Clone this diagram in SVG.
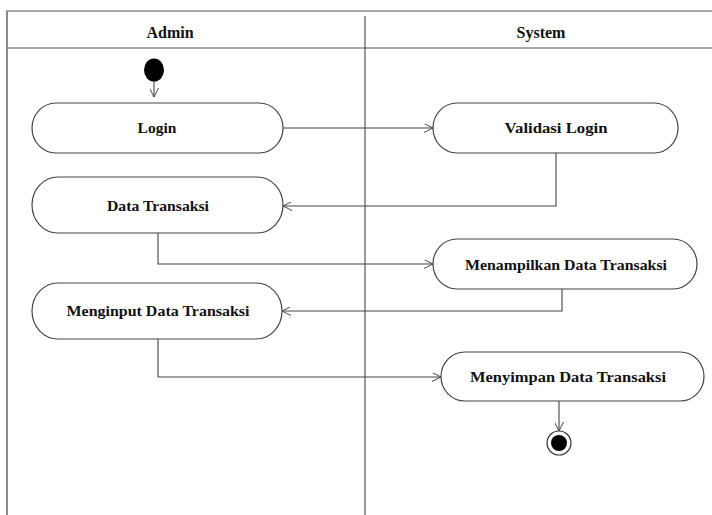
<svg xmlns="http://www.w3.org/2000/svg" width="712" height="515" viewBox="0 0 712 515">
<style>
.frame{stroke:#8a8a8a;fill:none}
.node rect{fill:#fff;stroke:#444;stroke-width:1.2}
.node text{font-family:'Liberation Serif','Times New Roman','DejaVu Serif',serif;font-weight:bold;font-size:15.5px;fill:#111;text-anchor:middle}
.hdr{font-family:'Liberation Serif','Times New Roman','DejaVu Serif',serif;font-weight:bold;font-size:16px;fill:#111;text-anchor:middle}
#connectors path{fill:none;stroke:#444;stroke-width:1.1;marker-end:url(#arr)}
</style>
<defs>
<marker id="arr" viewBox="0 0 10 10" refX="10" refY="5" markerWidth="9" markerHeight="9" markerUnits="userSpaceOnUse" orient="auto">
<path d="M0,0 L10,5 L0,10" fill="none" stroke="#444" stroke-width="1.1"/>
</marker>
</defs>
<rect width="712" height="515" fill="#fff"/>
<g id="swimlanes">
<line class="frame" x1="7" y1="11" x2="7" y2="515" stroke-width="2"/>
<line class="frame" x1="6" y1="11" x2="712" y2="11" stroke-width="1.5"/>
<line class="frame" x1="7" y1="48" x2="712" y2="48" stroke-width="1.5"/>
<line x1="365" y1="16" x2="365" y2="515" stroke="#333" stroke-width="1"/>
<text class="hdr" x="170" y="38">Admin</text>
<text class="hdr" x="541" y="38">System</text>
</g>
<g id="start"><ellipse cx="154" cy="70" rx="10" ry="11.5" fill="#000"/></g>
<g id="login" class="node"><rect x="32" y="103" width="251" height="50" rx="24" ry="25"/><text x="157" y="133">Login</text></g>
<g id="validasi" class="node"><rect x="433" y="103" width="245" height="50" rx="24" ry="25"/><text x="556" y="133" textLength="103" lengthAdjust="spacingAndGlyphs">Validasi Login</text></g>
<g id="data" class="node"><rect x="32" y="177" width="251" height="56" rx="26" ry="28"/><text x="158" y="211" textLength="102" lengthAdjust="spacingAndGlyphs">Data Transaksi</text></g>
<g id="menampilkan" class="node"><rect x="433" y="239" width="264" height="50" rx="24" ry="25"/><text x="566" y="270" textLength="202" lengthAdjust="spacingAndGlyphs">Menampilkan Data Transaksi</text></g>
<g id="menginput" class="node"><rect x="32" y="283" width="250" height="56" rx="26" ry="28"/><text x="158" y="316" textLength="183" lengthAdjust="spacingAndGlyphs">Menginput Data Transaksi</text></g>
<g id="menyimpan" class="node"><rect x="441" y="352" width="263" height="49" rx="24" ry="24.5"/><text x="568" y="382" textLength="196" lengthAdjust="spacingAndGlyphs">Menyimpan Data Transaksi</text></g>
<g id="end"><circle cx="559" cy="443" r="12" fill="#fff" stroke="#333" stroke-width="1.2"/><circle cx="559" cy="443" r="8" fill="#000"/></g>
<g id="connectors">
<path d="M154,81.5 V97"/>
<path d="M283,128 H433"/>
<path d="M556,153 V206 H283"/>
<path d="M158,233 V264 H433"/>
<path d="M562,289 V311 H282"/>
<path d="M158,339 V377 H441"/>
<path d="M559,401 V431"/>
</g>
</svg>
